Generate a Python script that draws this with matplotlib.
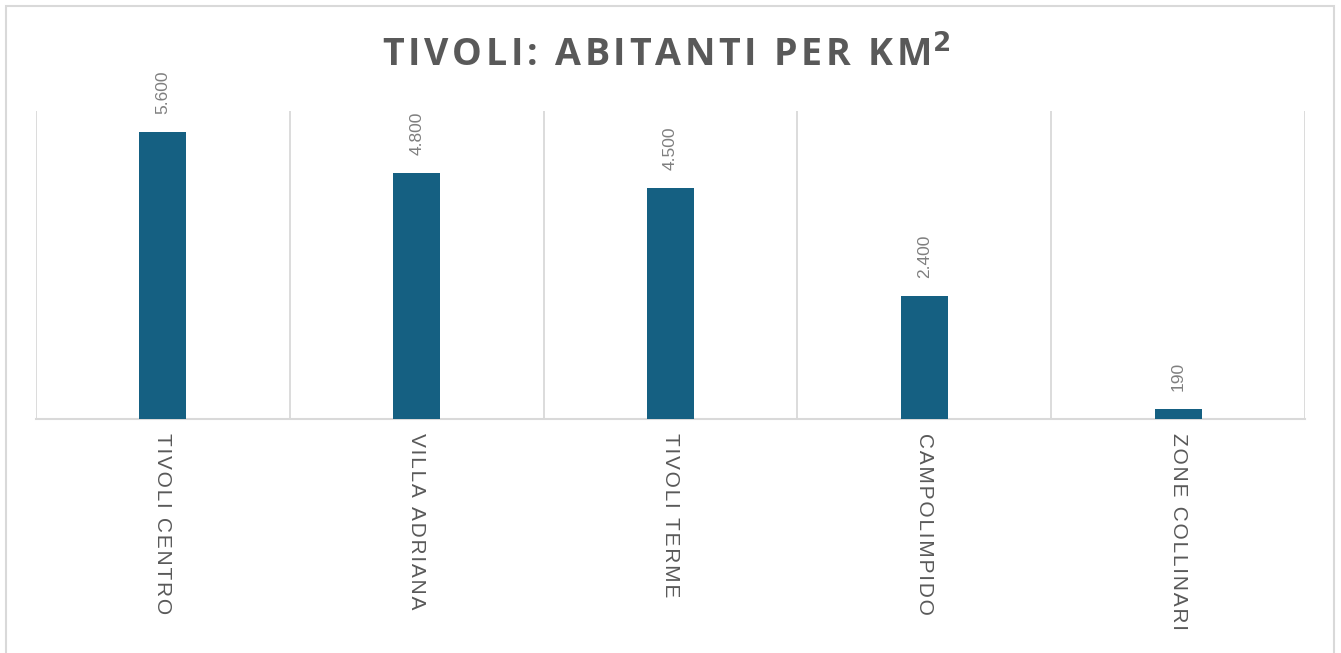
import numpy as np
import matplotlib.pyplot as plt
from matplotlib.patches import Rectangle

# --- data ---
zone = ["Tivoli Centro", "Villa Adriana", "Tivoli Terme", "Campolimpido", "Zone Collinari"]
abitanti_km2 = [5600, 4800, 4500, 2400, 190]
titolo = "TIVOLI: ABITANTI PER KM"

# --- style ---
bar_col = "#156082"
txt_col = "#595959"
lbl_col = "#7f7f7f"
grid_col = "#d9d9d9"


def spaced(s, sep="\u200a"):
    # fake letter spacing with hair spaces
    return sep.join(s)


def fmt_it(v):
    return f"{v:,.0f}".replace(",", ".")


fig = plt.figure(figsize=(13.41, 6.53), dpi=100)

# outer chart border (no bottom edge, cut off in reference)
fig.patches.append(Rectangle((6 / 1341, -0.01), 1328 / 1341, 1 - 6 / 653 + 0.01,
                             transform=fig.transFigure, fill=False,
                             edgecolor=grid_col, linewidth=1.5))

ax = fig.add_axes([36 / 1341, 1 - 419 / 653, 1269 / 1341, (419 - 111) / 653])

x = np.arange(len(zone))
bars = ax.bar(x, abitanti_km2, width=0.185, color=bar_col, zorder=3)

ax.set_xlim(-0.5, len(zone) - 0.5)
ax.set_ylim(0, 6000)

# vertical separators between categories
ax.set_xticks(np.arange(-0.5, len(zone)), minor=True)
ax.grid(True, which="minor", axis="x", color=grid_col, linewidth=1.3, zorder=0)
ax.tick_params(which="both", length=0)

ax.set_yticks([])
ax.set_xticks(x)
ax.set_xticklabels([spaced(z.upper()) for z in zone], rotation=-90,
                   ha="center", va="top", fontsize=15, color=txt_col,
                   family=["Liberation Sans", "DejaVu Sans"])
ax.tick_params(axis="x", pad=10)

for s in ["top", "left", "right"]:
    ax.spines[s].set_visible(False)
ax.spines["bottom"].set_color(grid_col)
ax.spines["bottom"].set_linewidth(1.5)

for b, v in zip(bars, abitanti_km2):
    ax.annotate(fmt_it(v), (b.get_x() + b.get_width() / 2, v),
                xytext=(0, 18), textcoords="offset pixels",
                rotation=90, ha="center", va="bottom",
                fontsize=12.5, color=lbl_col,
                family=["Liberation Sans", "DejaVu Sans"])

fig.text(0.497, 1 - 56 / 653, spaced(titolo, "\u200a") + r"$^{\mathbf{2}}$",
         ha="center", va="center",
         fontsize=27, fontweight="bold", color=txt_col,
         family=["Open Sans", "DejaVu Sans"])

plt.savefig("out.png", dpi=100)
